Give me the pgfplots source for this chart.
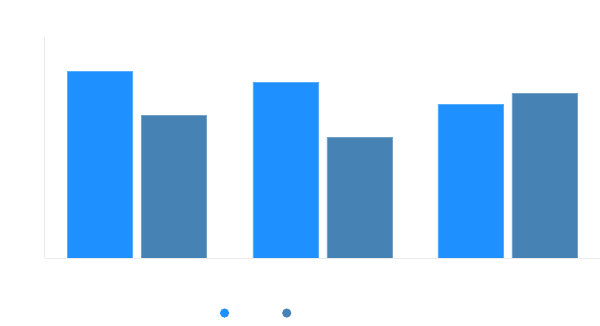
\documentclass[border=0pt]{standalone}
\usepackage{pgfplots}
\pgfplotsset{compat=1.18}
\definecolor{cA}{HTML}{1E90FF}
\definecolor{cB}{HTML}{4682B4}
\definecolor{axl}{HTML}{EBEBEB}
\begin{document}
\begin{tikzpicture}[x=1pt,y=1pt]
\useasboundingbox (0,0) rectangle (600,326);
\begin{axis}[
  at={(44.5pt,68pt)}, anchor=south west,
  scale only axis, width=555.5pt, height=221pt,
  xmin=-0.5, xmax=2.5, ymin=0, ymax=100.5,
  axis x line*=bottom, axis y line*=left,
  axis line style={draw=axl, line width=0.8pt, -},
  xtick=\empty, ytick=\empty,
  ybar, bar width=65pt,
  legend columns=2,
  legend style={draw=none, fill=none, at={(0.381,-0.249)}, anchor=center,
    /tikz/every even column/.append style={column sep=52pt},
    inner sep=0pt, nodes={inner sep=0pt}},
  legend image code/.code={\fill[#1, draw=none] (0pt,0pt) circle (4.6pt);},
]
\addplot[fill=cA, draw=cA!75!white, line width=0.5pt, bar shift=-37pt] coordinates {(0,85) (1,80) (2,70)};
\addlegendentry{\mbox{}}
\addplot[fill=cB, draw=cB!75!white, line width=0.5pt, bar shift=37pt] coordinates {(0,65) (1,55) (2,75)};
\addlegendentry{\mbox{}}
\end{axis}
\end{tikzpicture}
\end{document}
